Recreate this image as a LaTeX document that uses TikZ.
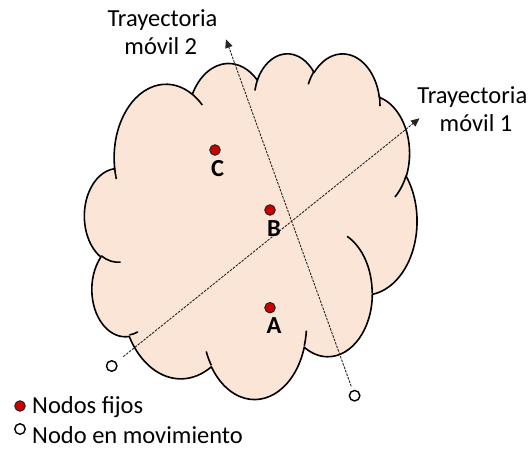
\documentclass[tikz,border=0pt]{standalone}
\usepackage{fontspec}
\setmainfont{Carlito}
\usetikzlibrary{arrows.meta}
\definecolor{cloudfill}{HTML}{FBE5D6}
\definecolor{dotred}{RGB}{204,0,0}
\begin{document}
\begin{tikzpicture}[x=1pt,y=-1pt,
  declare function={vis(\a,\b,\t)=atan2(\a*sin(\t),\b*cos(\t));},
  cloudline/.style={draw=black, line width=1.6pt, line join=round},
  fixdot/.style={circle, inner sep=0pt, minimum size=10.5pt, fill=dotred, draw=black!85, line width=1pt},
  movdot/.style={circle, inner sep=0pt, minimum size=10.5pt, fill=white, draw=black, line width=1.4pt},
  traj/.style={draw=black!85, line width=0.9pt, dash pattern=on 2.5pt off 1.2pt, -{Triangle[length=8.5pt,width=7.5pt]}},
  txt/.style={font=\fontsize{24.5}{29}\selectfont, inner sep=0pt, anchor=base},
  lbl/.style={font=\fontsize{24.5}{29}\selectfont\bfseries, inner sep=0pt, anchor=base}]
\useasboundingbox (0,0) rectangle (529,449);
% cloud (PowerPoint cloud preset geometry)
\begin{scope}[shift={(84.6,52.7)}, x=0.76921pt, y=-0.8pt]
  \path[fill=cloudfill, cloudline] (39.00,143.70)
    \foreach \wr/\hr/\st/\sw in {67.53/91.90/-190.48748/123.78053, 53.33/72.67/-144.10238/89.94523, 43.65/59.45/-145.80792/99.72302, 48.57/65.95/-130.98607/117.24173, 53.33/72.73/-78.70888/109.02692, 67.75/92.20/-46.26725/130.269, 57.85/78.67/0.62502/114.03333, 67.52/92.15/22.4516/115.17255, 77.20/105.43/66.24263/75.71102, 43.60/59.18/-274.94208/146.73557, 43.45/59.45/-246.8285/152.51885}
    { arc[x radius=\wr, y radius=\hr, start angle={vis(\wr,\hr,\st)}, delta angle={mod(vis(\wr,\hr,\st+\sw)-vis(\wr,\hr,\st)+720,360)}] }
    -- cycle;
  \foreach \px/\py/\wr/\hr/\st/\sw in {46.93/261.77/43.45/59.45/86.742/26.4295, 69.28/348.99/43.60/59.18/73.61047/11.44747, 164.78/390.90/67.52/92.15/137.62415/14.0811, 288.27/347.51/67.52/92.15/6.45327/15.99835, 341.29/229.54/57.85/78.67/-70.29235/70.91737, 417.98/153.54/53.33/72.73/30.31803/27.7515, 383.24/54.26/48.57/65.95/-13.74433/14.8589, 290.78/39.52/48.57/65.95/-149.18145/18.19537, 221.41/47.20/43.65/59.45/-163.49427/17.68635, 140.00/51.92/67.53/91.90/-66.70695/12.31935, 41.27/157.89/67.53/91.90/157.65435/11.85817}
    { \draw[cloudline] (\px,\py) arc[x radius=\wr, y radius=\hr, start angle={vis(\wr,\hr,\st)}, delta angle={mod(vis(\wr,\hr,\st+\sw)-vis(\wr,\hr,\st)+720,360)}]; }
\end{scope}
% moving nodes and trajectories
\node[movdot] (m1) at (111.7,366) {};
\node[movdot] (m2) at (354.6,395.7) {};
\coordinate (e1) at (419.6,118.3);
\coordinate (e2) at (226,39.3);
\draw[traj, shorten <=9pt] (m1) -- (e1);
\draw[traj, shorten <=4pt] (m2) -- (e2);
% fixed nodes
\node[fixdot] (C) at (215,150) {};
\node[fixdot] (B) at (270,210) {};
\node[fixdot] (A) at (270,307.7) {};
\node[lbl] (lC) at (217.6,176.7) {C};
\node[lbl] (lB) at (274,236.5) {B};
\node[lbl] (lA) at (274,333.3) {A};
% trajectory labels
\node[txt] (t2a) at (162.5,26.7) {Trayectoria};
\node[txt] (t2b) at (160.8,55) {móvil 2};
\node[txt] (t1a) at (472.3,103.3) {Trayectoria};
\node[txt] (t1b) at (476,131.7) {móvil 1};
% legend
\node[fixdot] (lf) at (20,406) {};
\node[txt, anchor=base west] (lft) at (32,413.3) {Nodos fijos};
\node[movdot] (lm) at (20,429) {};
\node[txt, anchor=base west] (lmt) at (32,443.3) {Nodo en movimiento};
\end{tikzpicture}
\end{document}
